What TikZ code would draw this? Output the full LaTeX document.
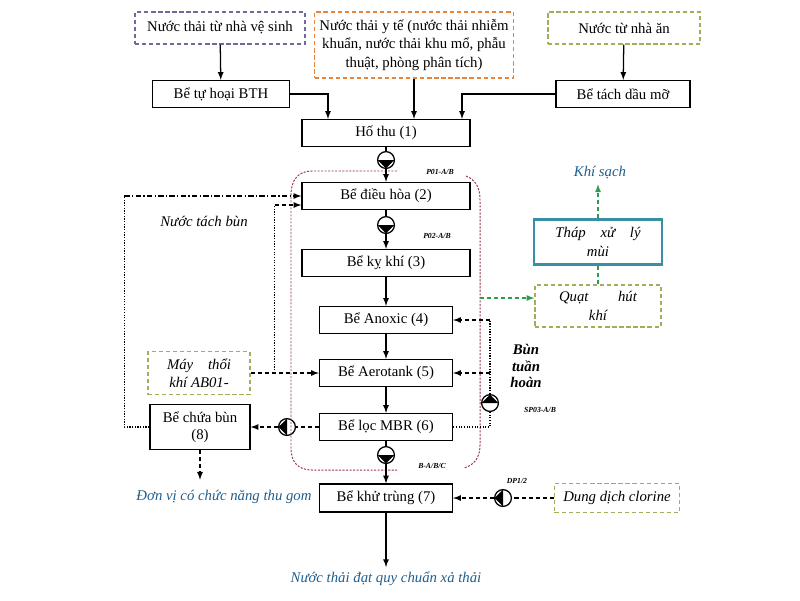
\documentclass[tikz,border=0pt]{standalone}
\usepackage{fontspec}
\setmainfont{Liberation Serif}
\usepackage{xcolor}
\usepackage{tikz}
\usetikzlibrary{positioning,arrows,calc}

\definecolor{vienTim}{HTML}{6B6B9E}
\definecolor{cam}{HTML}{E8843C}
\definecolor{reu}{HTML}{A4AE5A}
\definecolor{xanhThap}{HTML}{3A8FA0}
\definecolor{xanhChu}{HTML}{1F5E8C}
\definecolor{xanhLa}{HTML}{2E9B50}
\definecolor{doDo}{HTML}{9A3A4C}

\begin{document}
\begin{tikzpicture}[x=0.025cm,y=-0.025cm,>=latex,
    every node/.style={font=\fontsize{10.5}{13}\selectfont},
    box/.style={draw,line width=0.9pt,minimum height=0.675cm,inner sep=2pt},
    nguon/.style={draw,densely dashed,line width=0.8pt,minimum height=0.8cm,align=center},
    phu/.style={draw=reu,densely dashed,line width=0.9pt,align=center,font=\fontsize{10.5}{13}\selectfont\itshape},
    pump/.style={circle,draw,line width=0.9pt,fill=white,minimum size=0.42cm,inner sep=0pt},
    pumpdown/.style={pump,path picture={\fill[black] (path picture bounding box.west) -- (path picture bounding box.east) -- (path picture bounding box.south) -- cycle;}},
    pumpup/.style={pump,path picture={\fill[black] (path picture bounding box.west) -- (path picture bounding box.east) -- (path picture bounding box.north) -- cycle;}},
    pumpleft/.style={pump,path picture={\fill[black] (path picture bounding box.north) -- (path picture bounding box.south) -- (path picture bounding box.west) -- cycle;}},
    nhan/.style={font=\fontsize{5.5}{6}\selectfont\bfseries\itshape},
    ghichu/.style={text=xanhChu,font=\fontsize{10.5}{13}\selectfont\itshape},
    flow/.style={->,line width=0.9pt},
    netdut/.style={line width=0.9pt,dash pattern=on 3pt off 2pt},
    diem/.style={line width=0.9pt,densely dotted},
    gachcham/.style={line width=0.9pt,dash pattern=on 4pt off 1.5pt on 1pt off 1.5pt},
    xanhdut/.style={draw=xanhLa,line width=0.9pt,dash pattern=on 3pt off 2pt},
    vienDo/.style={draw=doDo,line width=0.7pt,dash pattern=on 1.5pt off 1pt}]
    \useasboundingbox (0,0) rectangle (800,600);

    % nguon nuoc thai
    \node[nguon,draw=vienTim,minimum width=4.25cm] (VeSinh) at (220,28) {Nước thải từ nhà vệ sinh};
    \node[nguon,draw=cam,minimum width=4.95cm,minimum height=1.65cm] (YTe) at (414,45) {Nước thải y tế (nước thải nhiễm\\khuẩn, nước thải khu mổ, phẫu\\thuật, phòng phân tích)};
    \node[nguon,draw=reu,minimum width=3.8cm] (NhaAn) at (624,28) {Nước từ nhà ăn};
    \node[box,minimum width=3.425cm] (BTH) at (221,94) {Bể tự hoại BTH};
    \node[box,minimum width=3.35cm] (TachDau) at (623,94) {Bể tách dầu mỡ};

    % day chuyen chinh
    \node[box,minimum width=4.2cm] (HoThu) at (386,133) {Hố thu (1)};
    \node[pumpdown] (P1) at (386,160) {};
    \node[box,minimum width=4.2cm] (DieuHoa) at (386,196) {Bể điều hòa (2)};
    \node[pumpdown] (P2) at (386,225) {};
    \node[box,minimum width=4.2cm] (KyKhi) at (386,263) {Bể kỵ khí (3)};
    \node[box,minimum width=3.325cm] (Anoxic) at (386,320) {Bể Anoxic (4)};
    \node[box,minimum width=3.325cm] (Aerotank) at (386,373) {Bể Aerotank (5)};
    \node[box,minimum width=3.325cm] (MBR) at (386,427) {Bể lọc MBR (6)};
    \node[pumpdown] (P3) at (386,455) {};
    \node[box,minimum width=3.325cm,minimum height=0.7cm] (KhuTrung) at (386,498) {Bể khử trùng (7)};
    \node[ghichu] (XaThai) at (386,579) {Nước thải đạt quy chuẩn xả thải};

    \node[nhan] (LP1) at (440,172) {P01-A/B};
    \node[nhan] (LP2) at (437,236) {P02-A/B};
    \node[nhan] (LP3) at (432,466) {B-A/B/C};

    % khu xu ly mui
    \node[draw=xanhThap,line width=2pt,minimum width=3.2cm,minimum height=1.125cm,align=center,font=\fontsize{10.5}{13}\selectfont\itshape] (Thap) at (598,242) {Tháp\quad xử\quad lý\\mùi};
    \node[ghichu] (KhiSach) at (600,173) {Khí sạch};
    \node[phu,minimum width=3.15cm,minimum height=1.05cm] (Quat) at (598,306) {Quạt\qquad hút\\khí};

    % ben trai
    \node[phu,minimum width=2.55cm,minimum height=1.075cm] (MayThoi) at (199,373) {Máy\quad thổi\\khí AB01-};
    \node[box,minimum width=2.5cm,minimum height=1.125cm,align=center,font=\fontsize{10.5}{12}\selectfont] (ChuaBun) at (200,427) {Bể chứa bùn\\(8)};
    \node[pumpleft] (PB) at (287,427) {};
    \node[ghichu] (ThuGom) at (224,497) {Đơn vị có chức năng thu gom};
    \node[font=\fontsize{10.5}{13}\selectfont\itshape] (TachBun) at (204,221) {Nước tách bùn};

    % ben phai
    \node[pumpup] (SP) at (490,403) {};
    \node[nhan] (LSP) at (540,410) {SP03-A/B};
    \node[align=center,font=\fontsize{10.5}{11.5}\selectfont\bfseries\itshape] (TuanHoan) at (526,366) {Bùn\\tuần\\hoàn};
    \node[phu,minimum width=3.125cm,minimum height=0.725cm] (Clorine) at (617,498) {Dung dịch clorine};
    \node[pumpleft] (DP) at (503,498) {};
    \node[nhan] (LDP) at (517,481) {DP1/2};

    % vien do
    \draw[vienDo] (397,171) -- (312,171) .. controls (298,171) and (291,180) .. (291,195) -- (291,448) .. controls (291,462) and (298,470) .. (312,470) -- (397,470);
    \draw[vienDo] (466,176) .. controls (476,180) and (480,188) .. (480,200) -- (480,445) .. controls (480,458) and (474,465) .. (464,468);

    % dong vao
    \draw[flow] (VeSinh) -- (BTH);
    \draw[flow] (BTH.east) -| ([xshift=-1.45cm]HoThu.north);
    \draw[flow] (YTe.south) -- (YTe.south |- HoThu.north);
    \draw[flow] (NhaAn) -- (TachDau);
    \draw[flow] (TachDau.west) -| ([xshift=1.9cm]HoThu.north);

    % dong chinh
    \draw[line width=0.9pt] (HoThu) -- (P1);
    \draw[flow] (P1) -- (DieuHoa);
    \draw[line width=0.9pt] (DieuHoa) -- (P2);
    \draw[flow] (P2) -- (KyKhi);
    \draw[flow] (KyKhi) -- (Anoxic);
    \draw[flow] (Anoxic) -- (Aerotank);
    \draw[flow] (Aerotank) -- (MBR);
    \draw[line width=0.9pt] (MBR) -- (P3);
    \draw[flow] (P3) -- (KhuTrung);
    \draw[flow] (KhuTrung) -- (XaThai);

    % nuoc tach bun, khi
    \coordinate (TB) at ([xshift=-4.425cm]DieuHoa.west);
    \draw[diem] (ChuaBun.west) -| (TB);
    \draw[gachcham,->] (TB) -- (DieuHoa.west);
    \draw[netdut,->] (MayThoi.east) -- (MayThoi.east -| Aerotank.west);
    \coordinate (GioVao) at ([yshift=-0.225cm]DieuHoa.west);
    \coordinate (Re) at ($(MayThoi.east)!0.35!(Aerotank.west)$);
    \draw[diem] (Re) -- (Re |- GioVao);
    \draw[netdut,->] (Re |- GioVao) -- (GioVao);

    % bun
    \draw[netdut] (MBR.west) -- (PB);
    \draw[netdut,->] (PB) -- (ChuaBun.east);
    \draw[netdut,->,shorten >=4pt] (ChuaBun.south) -- (ChuaBun.south |- ThuGom.north);
    \draw[diem] (MBR.east) -| (SP.south);
    \draw[diem] (SP.north) -- (SP |- Anoxic.east);
    \draw[netdut,->] (SP |- Anoxic.east) -- (Anoxic.east);
    \draw[netdut,->] (SP |- Aerotank.east) -- (Aerotank.east);

    % clorine
    \draw[netdut] (Clorine.west) -- (DP);
    \draw[netdut,->] (DP) -- (KhuTrung.east);

    % khi thai
    \coordinate (KhiThai) at (480,298);
    \draw[xanhdut,->] (KhiThai) -- (KhiThai -| Quat.west);
    \draw[xanhdut] (Quat.north) -- (Thap.south);
    \draw[xanhdut,->] (Thap.north) -- (Thap.north |- KhiSach.south);
\end{tikzpicture}
\end{document}
